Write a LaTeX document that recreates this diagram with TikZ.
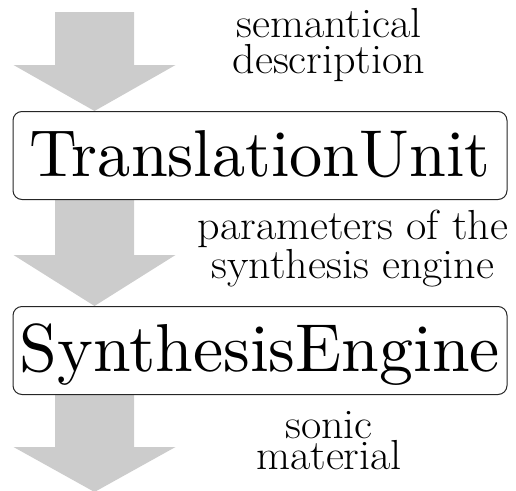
\documentclass[tikz,border=0pt]{standalone}
\usetikzlibrary{calc}
\newcommand{\lblw}[1]{\scalebox{1.05}[1]{#1}}
\begin{document}
\begin{tikzpicture}[x=1pt,y=-1pt,
  arrowfill/.style={fill=black!20},
  unitbox/.style={draw=black!85,line width=1pt,rounded corners=9pt,fill=white,
    minimum width=494pt,minimum height=88pt,inner sep=0pt,text height=42pt,text depth=0pt},
  label/.style={align=center,anchor=base,inner sep=0pt,font=\fontsize{42}{36}\selectfont}]
\useasboundingbox (0,0) rectangle (516,490);
\clip (0,0) rectangle (516,490);
\coordinate (ax) at (94.5,0);
\coordinate (start) at (94.5,12);
\coordinate (finish) at (94.5,492);
% placeholders for the boxes, so that the arrows can be drawn behind them
\node[unitbox,draw=none,fill=none] (tu0) at (260,155.5) {};
\node[unitbox,draw=none,fill=none] (se0) at (260,350.5) {};
\fill[arrowfill] ($(start)+(-39.5,0)$) -- ($(start)+(39.5,0)$) -- (134,65) -- (175.5,65)
  -- (ax |- tu0.north) -- (13.5,65) -- (55,65) -- cycle;
\fill[arrowfill] ($(ax |- tu0.south)+(-39.5,0)$) -- ($(ax |- tu0.south)+(39.5,0)$) -- (134,255) -- (175.5,255)
  -- (ax |- se0.north) -- (13.5,255) -- (55,255) -- cycle;
\fill[arrowfill] ($(ax |- se0.south)+(-39.5,0)$) -- ($(ax |- se0.south)+(39.5,0)$) -- (134,447) -- (175.5,447)
  -- (finish) -- (13.5,447) -- (55,447) -- cycle;
\node[unitbox] (tu) at (260,155.5) {\scalebox{6.63}{\fontsize{10}{12}\selectfont TranslationUnit}};
\node[unitbox] (se) at (260,350.5) {\scalebox{6.78}{\fontsize{10}{12}\selectfont SynthesisEngine}};
\node[label] (l1) at (329,73) {\lblw{semantical}\\\lblw{description}};
\node[label] (l2) at (353,278) {\lblw{parameters of the}\\\lblw{synthesis engine}};
\node[label,font=\fontsize{42}{28}\selectfont] (l3) at (329,469) {\lblw{sonic}\\\lblw{material}};
\end{tikzpicture}
\end{document}
